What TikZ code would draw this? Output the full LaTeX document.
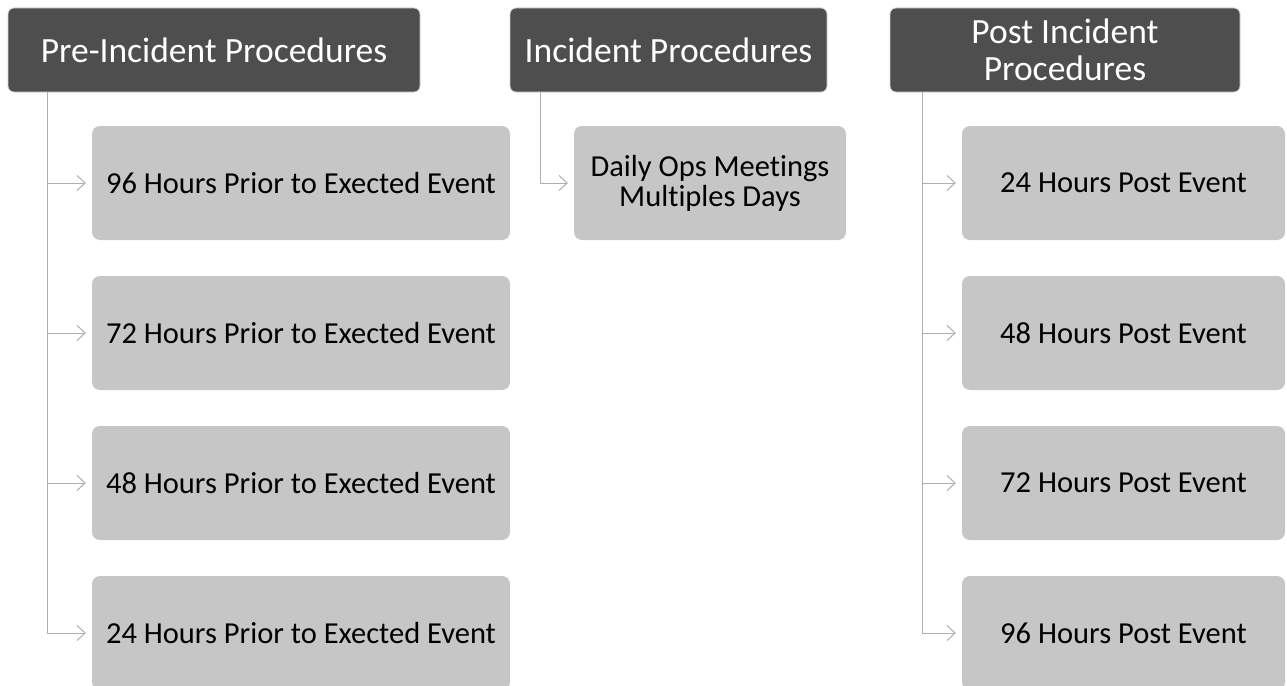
\documentclass[tikz,border=0pt]{standalone}
\usepackage{fontspec}
\setmainfont{Carlito}[Ligatures={NoCommon}]
\usetikzlibrary{arrows.meta}
\definecolor{hdr}{HTML}{4E4E4E}
\definecolor{kid}{HTML}{C6C6C6}
\definecolor{lnk}{HTML}{AFAFAF}
\tikzset{
  hdrbox/.style={rectangle, rounded corners=6pt, fill=hdr, draw=gray!35, line width=0.8pt,
    text=white, font=\fontsize{35.5}{37}\selectfont, align=center, inner sep=0pt},
  kidbox/.style={rectangle, rounded corners=8pt, fill=kid, text=black,
    font=\fontsize{30.5}{30}\selectfont, align=center, inner sep=0pt, minimum height=114pt},
  conn/.style={draw=lnk, line width=1pt, -{Straight Barb[length=8pt,width=15pt]}, shorten >=6pt}
}
\begin{document}
\begin{tikzpicture}[x=1pt,y=-1pt]
\useasboundingbox (0,0) rectangle (1287,685);
% headers
\node[hdrbox, minimum width=412pt, minimum height=84pt] (h1) at (214,50) {Pre-Incident Procedures};
\node[hdrbox, minimum width=317pt, minimum height=84pt] (h2) at (668.5,50) {Incident Procedures};
\node[hdrbox, minimum width=350pt, minimum height=84pt] (h3) at (1065,50) {Post Incident\\Procedures};
% left column
\node[kidbox, minimum width=418pt] (l1) at (301,183) {96 Hours Prior to Exected Event};
\node[kidbox, minimum width=418pt] (l2) at (301,333) {72 Hours Prior to Exected Event};
\node[kidbox, minimum width=418pt] (l3) at (301,483) {48 Hours Prior to Exected Event};
\node[kidbox, minimum width=418pt] (l4) at (301,633) {24 Hours Prior to Exected Event};
% middle
\node[kidbox, minimum width=272pt] (m1) at (710,183) {Daily Ops Meetings\\Multiples Days};
% right column
\node[kidbox, minimum width=323pt] (r1) at (1123.5,183) {24 Hours Post Event};
\node[kidbox, minimum width=323pt] (r2) at (1123.5,333) {48 Hours Post Event};
\node[kidbox, minimum width=323pt] (r3) at (1123.5,483) {72 Hours Post Event};
\node[kidbox, minimum width=323pt] (r4) at (1123.5,633) {96 Hours Post Event};
% connectors
\coordinate (s1) at ([xshift=40pt]h1.south west);
\coordinate (s2) at ([xshift=31pt]h2.south west);
\coordinate (s3) at ([xshift=33pt]h3.south west);
\foreach \k in {l1,l2,l3,l4} \draw[conn] (s1) |- (\k.west);
\draw[conn] (s2) |- (m1.west);
\foreach \k in {r1,r2,r3,r4} \draw[conn] (s3) |- (\k.west);
\end{tikzpicture}
\end{document}
